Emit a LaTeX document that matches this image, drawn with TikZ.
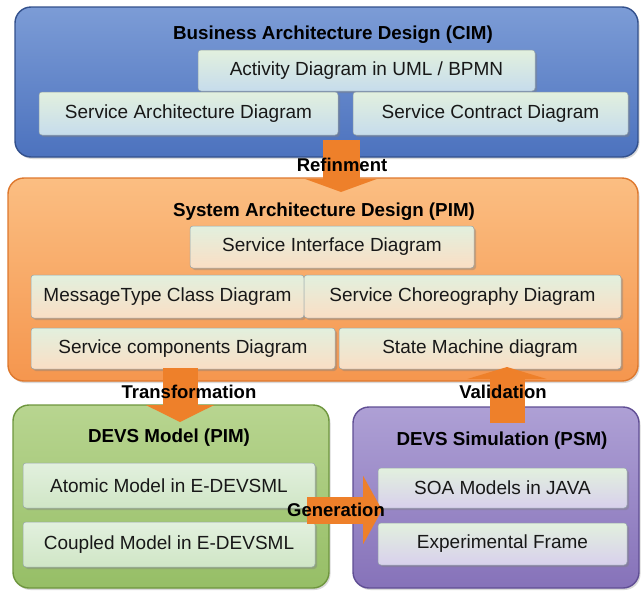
\documentclass[tikz,border=0pt]{standalone}
\usepackage{fontspec}
\setmainfont{Liberation Sans}
\usetikzlibrary{arrows.meta,shadows,positioning}
\definecolor{cimtop}{RGB}{124,156,214}
\definecolor{cimbot}{RGB}{76,114,190}
\definecolor{cimline}{RGB}{50,80,140}
\definecolor{pimtop}{RGB}{251,190,130}
\definecolor{pimbot}{RGB}{245,150,78}
\definecolor{pimline}{RGB}{222,120,45}
\definecolor{devstop}{RGB}{184,213,144}
\definecolor{devsbot}{RGB}{150,190,102}
\definecolor{devsline}{RGB}{110,150,62}
\definecolor{simtop}{RGB}{174,160,213}
\definecolor{simbot}{RGB}{134,114,185}
\definecolor{simline}{RGB}{96,78,148}
\definecolor{itemtop}{RGB}{226,240,222}
\definecolor{cimitem}{RGB}{198,220,236}
\definecolor{pimitem}{RGB}{250,222,196}
\definecolor{devsitem}{RGB}{208,230,198}
\definecolor{simitem}{RGB}{216,208,236}
\definecolor{itemline}{RGB}{150,165,170}
\definecolor{flowc}{RGB}{238,128,42}
\definecolor{textc}{RGB}{24,24,24}
\begin{document}
\begin{tikzpicture}[x=1pt,y=-1pt,
    panel/.style={anchor=north west, inner sep=0pt, outer sep=0pt, rounded corners=16pt, line width=1.4pt, drop shadow={shadow xshift=1.5pt,shadow yshift=-2pt,opacity=0.3}},
    item/.style={anchor=north west, inner sep=0pt, outer sep=0pt, rounded corners=3pt, draw=itemline, line width=0.5pt, text=textc, font=\fontsize{19}{22}\selectfont, drop shadow={shadow xshift=2pt,shadow yshift=-2pt,opacity=0.4}},
    title/.style={inner sep=0pt, font=\bfseries\fontsize{18.8}{22}\selectfont},
    flowlabel/.style={inner sep=0pt, font=\bfseries\fontsize{18.5}{22}\selectfont},
    flow/.style={draw=flowc}]
	\useasboundingbox (0,0) rectangle (643,592);

	\node (cim) [panel, draw=cimline, top color=cimtop, bottom color=cimbot, minimum width=623pt, minimum height=150pt] at (15,7) {};
	\node (pim) [panel, draw=pimline, top color=pimtop, bottom color=pimbot, minimum width=630pt, minimum height=203pt] at (8,178) {};
	\node (devs) [panel, draw=devsline, top color=devstop, bottom color=devsbot, minimum width=316pt, minimum height=183pt] at (13,405) {};
	\node (sim) [panel, draw=simline, top color=simtop, bottom color=simbot, minimum width=286pt, minimum height=181pt] at (353,407) {};

	\node (cimt) [title] at (333,35) {Business Architecture Design (CIM)};
	\node (pimt) [title] at (324,212) {System Architecture Design (PIM)};
	\node (devst) [title] at (169,438) {DEVS Model (PIM)};
	\node (simt) [title] at (502,441) {DEVS Simulation (PSM)};

	\node (act) [item, top color=itemtop, bottom color=cimitem, minimum width=337pt, minimum height=41pt] at (198,50) {Activity Diagram in UML / BPMN};
	\node (sad) [item, top color=itemtop, bottom color=cimitem, minimum width=299pt, minimum height=43pt] at (39,92) {Service Architecture Diagram};
	\node (scd) [item, top color=itemtop, bottom color=cimitem, minimum width=275pt, minimum height=43pt] at (353,92) {Service Contract Diagram};

	\node (sid) [item, top color=itemtop, bottom color=pimitem, minimum width=284pt, minimum height=42pt] at (190,226) {Service Interface Diagram};
	\node (mtc) [item, top color=itemtop, bottom color=pimitem, minimum width=273pt, minimum height=43pt] at (31,275) {MessageType Class Diagram};
	\node (sch) [item, top color=itemtop, bottom color=pimitem, minimum width=317pt, minimum height=43pt] at (304,275) {Service Choreography Diagram};
	\node (scm) [item, top color=itemtop, bottom color=pimitem, minimum width=304pt, minimum height=41pt] at (31,328) {Service components Diagram};
	\node (smd) [item, top color=itemtop, bottom color=pimitem, minimum width=282pt, minimum height=41pt] at (339,328) {State Machine diagram};

	\node (atm) [item, top color=itemtop, bottom color=devsitem, minimum width=292pt, minimum height=45pt] at (23,463) {Atomic Model in E-DEVSML};
	\node (cpl) [item, top color=itemtop, bottom color=devsitem, minimum width=292pt, minimum height=45pt] at (23,522) {Coupled Model in E-DEVSML};
	\node (soa) [item, top color=itemtop, bottom color=simitem, minimum width=249pt, minimum height=40pt] at (378,468) {SOA Models in JAVA};
	\node (exf) [item, top color=itemtop, bottom color=simitem, minimum width=249pt, minimum height=42pt] at (378,523) {Experimental Frame};

	\coordinate (ref1) at (341,140);
	\coordinate (ref2) at (341,192);
	\coordinate (tra1) at (180,368);
	\coordinate (tra2) at (180,422);
	\coordinate (val1) at (507,423);
	\coordinate (val2) at (507,367);
	\coordinate (gen1) at (307,510);
	\coordinate (gen2) at (382,510);

	\draw [flow, line width=37pt, -{Triangle[length=13pt,width=71pt]}] (ref1) -- (ref2);
	\draw [flow, line width=35pt, -{Triangle[length=17pt,width=68pt]}] (tra1) -- (tra2);
	\draw [flow, line width=35pt, -{Triangle[length=12pt,width=79pt]}] (val1) -- (val2);
	\draw [flow, line width=27pt, -{Triangle[length=19pt,width=68pt]}] (gen1) -- (gen2);

	\node (reft) [flowlabel] at (342,165) {Refinment};
	\node (trat) [flowlabel] at (189,392) {Transformation};
	\node (valt) [flowlabel] at (503,392) {Validation};
	\node (gent) [flowlabel] at (336,510) {Generation};
\end{tikzpicture}
\end{document}
